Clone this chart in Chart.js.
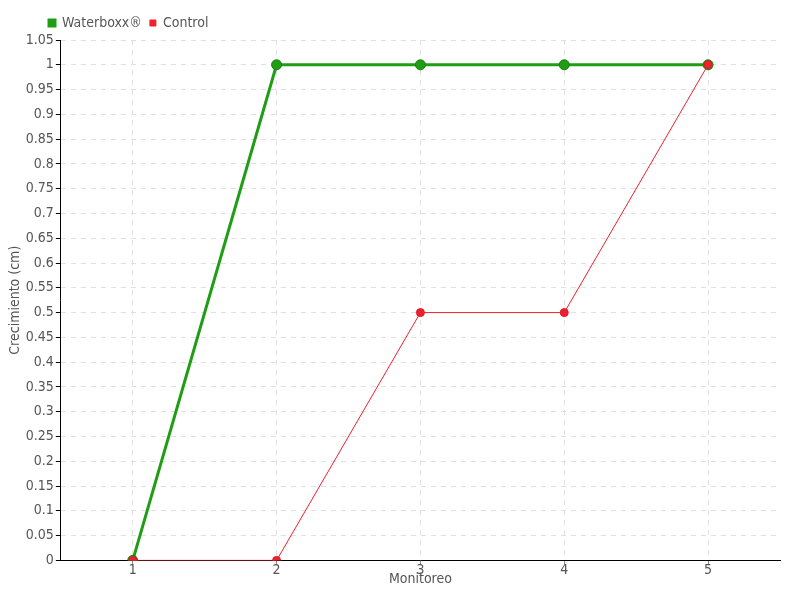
<!DOCTYPE html>
<html>
<head>
<meta charset="utf-8">
<script src="https://cdn.jsdelivr.net/npm/chart.js@4/dist/chart.umd.min.js"></script>
<style>
  html, body { margin: 0; padding: 0; background: #fff; }
  #wrap { width: 800px; height: 600px; }
</style>
</head>
<body>
<div id="wrap"><canvas id="chart" width="800" height="600"></canvas></div>
<script>
const labels = ["1", "2", "3", "4", "5"];
const waterboxx = [0, 1, 1, 1, 1];
const control = [0, 0, 0.5, 0.5, 1];

const font = "'Liberation Sans Narrow', 'DejaVu Sans Condensed', sans-serif";
Chart.defaults.font.family = font;
Chart.defaults.font.size = 14;
Chart.defaults.color = "#555";

// move the legend a little to the right, as in the original
const legendShift = {
  id: "legendShift",
  beforeDraw(chart) {
    if (chart.legend && !chart.legend._shifted) {
      chart.legend.left += 34;
      chart.legend._shifted = true;
    }
  }
};

const ctx = document.getElementById("chart").getContext("2d");
new Chart(ctx, {
  type: "line",
  data: {
    labels: labels,
    datasets: [
      {
        label: "Waterboxx®",
        data: waterboxx,
        borderColor: "#1f9e14",
        backgroundColor: "#1f9e14",
        pointBorderColor: "#17800f",
        borderWidth: 3,
        pointRadius: 5,
        pointBorderWidth: 1,
        tension: 0,
        order: 2
      },
      {
        label: "Control",
        data: control,
        borderColor: "#f0202e",
        backgroundColor: "#f0202e",
        pointBorderColor: "#d81a26",
        borderWidth: 1,
        pointRadius: 4,
        pointBorderWidth: 1,
        tension: 0,
        order: 1
      }
    ]
  },
  options: {
    responsive: false,
    animation: false,
    layout: { padding: { left: 7, right: 20, top: 8, bottom: 12 } },
    plugins: {
      legend: {
        position: "top",
        align: "start",
        labels: {
          boxWidth: 6,
          boxHeight: 6,
          padding: 8,
          color: "#555",
          sort: (a, b) => a.datasetIndex - b.datasetIndex
        }
      },
      tooltip: { enabled: false }
    },
    scales: {
      x: {
        offset: true,
        grid: { offset: false, color: "#e0e0e0", tickColor: "#888", tickLength: 4 },
        border: { color: "#000", dash: [5, 5], display: true },
        ticks: { padding: -2, color: "#555" },
        title: { display: true, text: "Monitoreo", padding: { top: -6, bottom: 0 }, color: "#555" }
      },
      y: {
        min: 0,
        max: 1.05,
        grid: { color: "#e0e0e0", tickColor: "#000", tickLength: 5 },
        border: { color: "#000", dash: [5, 5], display: true },
        ticks: { stepSize: 0.05, padding: 2, color: "#555", callback: v => Math.round(v * 100) / 100 },
        title: { display: true, text: "Crecimiento (cm)", padding: { bottom: 0, top: 0 }, color: "#555" }
      }
    }
  },
  plugins: [legendShift]
});
</script>
</body>
</html>
